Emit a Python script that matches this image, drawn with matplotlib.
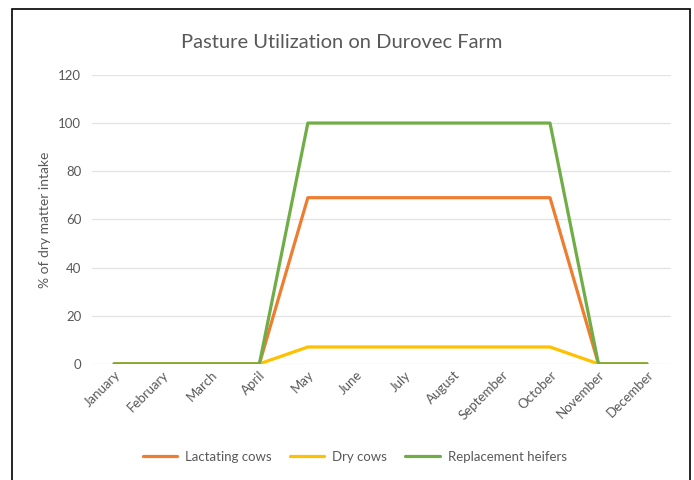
import matplotlib
matplotlib.use('Agg')
import matplotlib.pyplot as plt
from matplotlib.patches import Rectangle

months = ['January', 'February', 'March', 'April', 'May', 'June', 'July',
          'August', 'September', 'October', 'November', 'December']
lactating = [0, 0, 0, 0, 69, 69, 69, 69, 69, 69, 0, 0]
dry = [0, 0, 0, 0, 7, 7, 7, 7, 7, 7, 0, 0]
heifers = [0, 0, 0, 0, 100, 100, 100, 100, 100, 100, 0, 0]

plt.rcParams['font.family'] = ['Lato', 'DejaVu Sans']
txt = '#595959'

fig = plt.figure(figsize=(6.94, 4.80), dpi=100)
ax = fig.add_axes([0.133, 0.242, 0.834, 0.602])

x = list(range(len(months)))
ax.plot(x, lactating, color='#ED7D31', lw=2.3, label='Lactating cows', solid_capstyle='round')
ax.plot(x, dry, color='#FFC000', lw=2.3, label='Dry cows', solid_capstyle='round')
ax.plot(x, heifers, color='#70AD47', lw=2.3, label='Replacement heifers', solid_capstyle='round')

ax.set_xlim(-0.45, 11.5)
ax.set_ylim(0, 120)
ax.set_yticks(range(0, 121, 20))
ax.yaxis.grid(True, color='#E3E3E3', lw=0.9)
ax.set_axisbelow(True)
for s in ax.spines.values():
    s.set_visible(False)
ax.tick_params(length=0, colors=txt, labelsize=9.5)
ax.tick_params(axis='y', pad=8)
ax.set_xticks(x)
ax.set_xticklabels(months, rotation=45, ha='right', rotation_mode='anchor', color=txt)
ax.set_ylabel('% of dry matter intake', color=txt, fontsize=10, labelpad=5)

fig.text(0.493, 0.912, 'Pasture Utilization on Durovec Farm', ha='center', va='center',
         fontsize=14.5, color=txt)

fig.legend(loc='center', bbox_to_anchor=(0.511, 0.048), ncol=3, frameon=False,
           fontsize=9.5, labelcolor=txt, handlelength=2.6, columnspacing=1.4,
           handletextpad=0.6)

fig.add_artist(Rectangle((0.0173, -0.05), 0.977, 1.031, transform=fig.transFigure,
                         fill=False, edgecolor='black', lw=1.2))

fig.savefig('out.png', dpi=100)
